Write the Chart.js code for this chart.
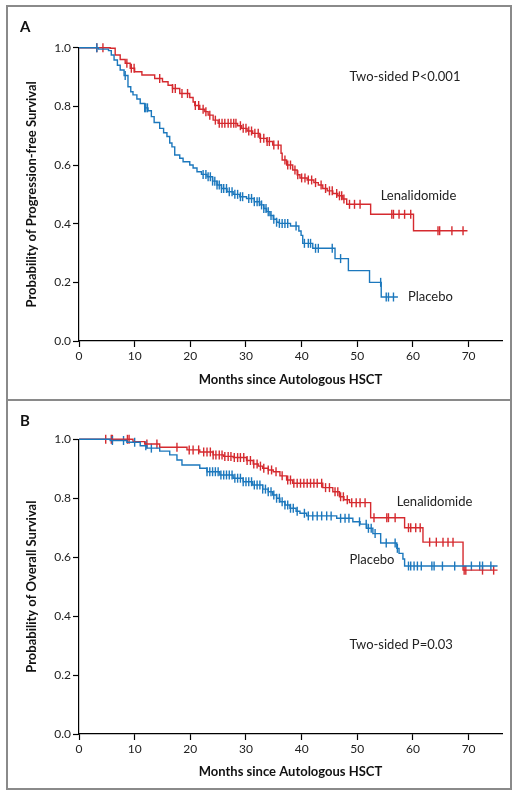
<!DOCTYPE html>
<html>
<head>
<meta charset="utf-8">
<script src="https://cdn.jsdelivr.net/npm/chart.js@4.4.1/dist/chart.umd.min.js"></script>
<style>
  body { margin: 0; background: #fff; font-family: Lato, sans-serif; }
  .panel { position: absolute; left: 6px; width: 502px; border: 2px solid #8a8a8a; background: #fff; }
  #boxA { top: 5px; height: 392px; }
  #boxB { top: 399px; height: 387px; }
  .letter { position: absolute; left: 12px; font: bold 15px Lato, sans-serif; color: #111; }
  canvas { display: block; }
</style>
</head>
<body>
<div class="panel" id="boxA"><div class="letter" style="top:10px">A</div><canvas id="chartA" width="502" height="392"></canvas></div>
<div class="panel" id="boxB"><div class="letter" style="top:10px">B</div><canvas id="chartB" width="502" height="387"></canvas></div>
<script>
// courbes Kaplan-Meier : [mois, probabilité] au moment de chaque chute
const pfsLenalidomide = [[0,1.0],[5.6,0.998],[6.5,0.975],[7.4,0.96],[8.3,0.947],[9.2,0.93],[10,0.918],[11.3,0.907],[13.6,0.895],[15,0.884],[16,0.872],[16.8,0.861],[18.1,0.844],[19.9,0.830],[20.5,0.815],[20.8,0.803],[21.7,0.790],[22.6,0.782],[23.2,0.770],[24.1,0.753],[25,0.742],[28.5,0.734],[29.2,0.725],[30.2,0.716],[31.2,0.708],[32.5,0.691],[33.7,0.680],[34.8,0.668],[36.3,0.640],[36.5,0.617],[37.3,0.600],[38.4,0.583],[39.2,0.567],[39.7,0.556],[41,0.549],[42.2,0.540],[43,0.532],[43.8,0.520],[44.6,0.512],[45.6,0.503],[46.5,0.495],[47.4,0.484],[48.1,0.466],[52.4,0.432],[60.1,0.376],[69.8,0.376]];
const pfsPlacebo = [[0,1.0],[3.5,0.995],[5.3,0.99],[5.8,0.975],[6.3,0.958],[6.9,0.94],[7.4,0.924],[8.1,0.905],[8.8,0.867],[9.3,0.85],[9.7,0.839],[10.4,0.825],[11,0.810],[11.8,0.795],[12.4,0.785],[13,0.765],[13.5,0.745],[14.5,0.725],[15.2,0.71],[15.8,0.697],[16.3,0.675],[16.7,0.662],[17.2,0.634],[18.1,0.623],[18.7,0.611],[19.9,0.600],[20.5,0.59],[21.2,0.577],[22,0.568],[23,0.560],[24,0.545],[24.8,0.532],[25.6,0.52],[26.6,0.509],[27.7,0.500],[28.9,0.492],[30.1,0.486],[31.5,0.475],[32.5,0.464],[33.2,0.452],[33.7,0.441],[34.3,0.428],[34.9,0.415],[35.5,0.405],[36,0.401],[38,0.392],[39.5,0.375],[39.9,0.360],[40.2,0.333],[42,0.316],[46,0.281],[48.4,0.240],[52.2,0.200],[54.3,0.150],[57.3,0.150]];
const osLenalidomide = [[0,1.0],[9.7,0.992],[11.8,0.984],[14.5,0.973],[19.4,0.964],[21.7,0.957],[24.1,0.947],[26,0.942],[27.7,0.938],[30.1,0.928],[31.3,0.916],[32.2,0.909],[33,0.902],[34,0.896],[34.9,0.890],[36.1,0.876],[37.3,0.862],[38.4,0.851],[43.8,0.836],[45.6,0.822],[46.8,0.805],[47.6,0.795],[48.6,0.785],[52.4,0.734],[58.5,0.700],[61.8,0.651],[69,0.556],[75.2,0.556]];
const osPlacebo = [[0,1.0],[5.6,0.996],[8.6,0.99],[11,0.978],[12.2,0.970],[14.5,0.960],[16.3,0.947],[17.6,0.930],[18.5,0.913],[21.7,0.902],[23,0.890],[25.3,0.879],[27.7,0.868],[29.5,0.856],[31.2,0.845],[33,0.831],[34,0.822],[34.8,0.811],[35.5,0.80],[36.1,0.788],[37,0.777],[37.9,0.766],[39,0.756],[39.7,0.749],[40.9,0.740],[46.3,0.732],[49.2,0.720],[50.5,0.712],[51.7,0.698],[52.8,0.680],[54.2,0.648],[57.1,0.630],[57.5,0.613],[58.2,0.594],[58.5,0.570],[75.2,0.570]];

// mois des données censurées (petites barres verticales)
const pfsLenCensor = [3.2,4.3,8.6,9.4,9.9,14.5,16.8,17.3,18.5,19.5,20.9,21.5,22.3,22.8,23.5,24.5,25.2,25.7,26.2,26.8,27.3,27.8,28.2,29,29.5,30,30.5,31,31.6,32.2,32.6,33.2,33.8,34.2,35,35.8,37,37.5,38,38.8,39.3,40,40.6,41.2,41.8,42.5,43.5,44.3,45,45.5,46.3,46.8,47.2,47.6,48.6,49.5,50.5,56.2,56.5,57.5,58.5,59.6,64.5,64.8,67,69];
const pfsPlaCensor = [3.2,8.3,11.8,12.0,12.3,22.3,22.8,23.2,23.6,24,24.4,24.8,25.2,25.6,26,26.5,27,27.5,28,28.5,29,29.4,30.5,31,31.5,32,32.4,32.8,33.2,33.6,34,34.5,35,35.5,36,36.5,37,37.5,39,40.5,41.2,41.6,42.5,43,45.5,47,54.2,55.2,55.6,56.5];
const osLenCensor = [4.8,5.8,6.0,8.7,9.0,12.2,14,17.6,19.8,20.5,21.5,22.4,23,23.6,24.1,24.6,25.2,25.7,26.2,26.8,27.3,27.9,28.5,29,29.6,30.2,30.8,31.4,32,32.6,33.2,34,34.6,35.4,36.5,37.5,38,38.6,39.2,39.8,40.4,41,41.6,42.2,42.8,43.6,44.3,45,46,46.5,47,47.5,48.2,49,49.8,50.5,51.4,53,55.3,55.6,56.8,59.2,59.6,60.5,61.3,63,64.2,65.4,66.3,67.2,69.2,69.5,72.5,74.5];
const osPlaCensor = [6,8,10,12,13,23,23.5,24,24.5,25,25.5,26,26.5,27,27.5,28,28.5,29,29.5,30,30.5,31,31.5,32,32.5,33,33.5,34,34.5,35,35.5,36,36.5,37,37.5,38,38.5,39.2,40.5,41.2,42,42.8,43.6,44.5,45.3,47,47.8,48.5,50.4,51.6,52,52.5,53.2,55.2,56.8,57.2,59.2,59.6,60.2,60.8,61.5,63.4,63.8,65.3,67.5,70.5,72,72.5,74];

const yTicks = [0, 0.2, 0.4, 0.6, 0.8, 1.0];
const xTicks = [0, 10, 20, 30, 40, 50, 60, 70];

const RED = "#d52a2f";
const BLUE = "#1c78bd";
const FONT = "Lato, sans-serif";

// valeur de la courbe en escalier au temps t
function survAt(curve, t) {
  let s = curve[0][1];
  for (const [x, y] of curve) { if (x <= t) s = y; }
  return s;
}

function stepDataset(curve, color) {
  return {
    data: curve.map(([x, y]) => ({ x, y })),
    showLine: true, borderColor: color, borderWidth: 1.4, stepped: "before",
    pointRadius: 0, fill: false, clip: false
  };
}

function censorDataset(curve, times, color) {
  return {
    data: times.map(t => ({ x: t, y: survAt(curve, t) })),
    showLine: false, pointStyle: "line", rotation: 90, pointRadius: 4.5,
    borderColor: color, borderWidth: 1.4, clip: false
  };
}

// textes posés en coordonnées du graphique
const kmLabels = {
  id: "kmLabels",
  afterDraw(chart, args, opts) {
    const ctx = chart.ctx;
    ctx.save();
    ctx.font = "13px " + FONT;
    ctx.fillStyle = "#222";
    ctx.textBaseline = "middle";
    ctx.textAlign = "left";
    opts.items.forEach(it => {
      ctx.fillText(it.text, chart.scales.x.getPixelForValue(it.x), chart.scales.y.getPixelForValue(it.y));
    });
    ctx.restore();
  }
};

function makeChart(id, lenCurve, plaCurve, lenCens, plaCens, yTitle, labels, lay) {
  return new Chart(document.getElementById(id), {
    type: "scatter",
    data: {
      datasets: [
        stepDataset(plaCurve, BLUE),
        stepDataset(lenCurve, RED),
        censorDataset(plaCurve, plaCens, BLUE),
        censorDataset(lenCurve, lenCens, RED)
      ]
    },
    options: {
      responsive: false, animation: false,
      layout: { padding: { top: lay.top, right: 8, left: 0, bottom: 0 } },
      plugins: { legend: { display: false }, tooltip: { enabled: false }, kmLabels: { items: labels } },
      scales: {
        x: {
          type: "linear", min: 0, max: 76,
          afterFit: s => { s.height = lay.xh; },
          afterBuildTicks: s => { s.ticks = xTicks.map(v => ({ value: v })); },
          ticks: { color: "#222", font: { family: FONT, size: 12 }, padding: 2, maxRotation: 0 },
          grid: { drawOnChartArea: false, tickLength: 6, tickColor: "#000", tickWidth: 1.2 },
          border: { color: "#000", width: 1.2 },
          title: { display: true, text: "Months since Autologous HSCT", color: "#111",
                   font: { family: FONT, size: 13, weight: "bold" }, padding: { top: 0, bottom: lay.xtp } }
        },
        y: {
          type: "linear", min: 0, max: 1,
          afterFit: s => { s.width = 71; },
          afterBuildTicks: s => { s.ticks = yTicks.map(v => ({ value: v })); },
          ticks: { color: "#222", font: { family: FONT, size: 12 }, padding: 2, callback: v => v.toFixed(1) },
          grid: { drawOnChartArea: false, tickLength: 6, tickColor: "#000", tickWidth: 1.2 },
          border: { color: "#000", width: 1.2 },
          title: { display: true, text: yTitle, color: "#111",
                   font: { family: FONT, size: 13, weight: "bold" }, padding: { top: 16, bottom: 0 } }
        }
      }
    },
    plugins: [kmLabels]
  });
}

makeChart("chartA", pfsLenalidomide, pfsPlacebo, pfsLenCensor, pfsPlaCensor,
  "Probability of Progression-free Survival",
  [{ text: "Two-sided P<0.001", x: 48.6, y: 0.901 },
   { text: "Lenalidomide", x: 54.2, y: 0.496 },
   { text: "Placebo", x: 59.1, y: 0.151 }],
  { top: 40.7, xh: 58, xtp: 11 });

makeChart("chartB", osLenalidomide, osPlacebo, osLenCensor, osPlaCensor,
  "Probability of Overall Survival",
  [{ text: "Lenalidomide", x: 57.1, y: 0.788 },
   { text: "Placebo", x: 48.6, y: 0.590 },
   { text: "Two-sided P=0.03", x: 48.6, y: 0.302 }],
  { top: 38.3, xh: 54, xtp: 8 });
</script>
</body>
</html>
